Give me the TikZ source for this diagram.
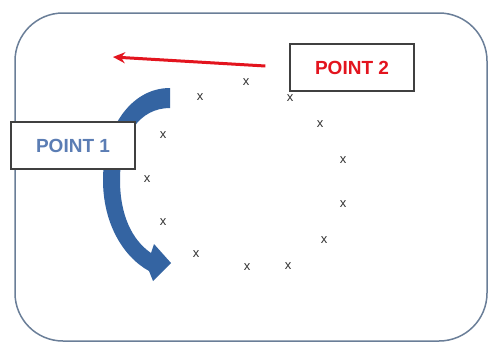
\documentclass[tikz,border=0pt]{standalone}
\usepackage{fontspec}
\setmainfont{Liberation Sans}
\usetikzlibrary{arrows.meta}
\definecolor{frame}{HTML}{6A7E98}
\definecolor{blueArrow}{HTML}{3464A2}
\definecolor{ptblue}{HTML}{5B7DB4}
\definecolor{ptred}{HTML}{E3141E}
\definecolor{xgray}{HTML}{333333}
\tikzset{
  labelbox/.style={draw=black!75, line width=1.3pt, fill=white, minimum width=124pt, minimum height=47pt, inner sep=0pt, font=\fontsize{19}{19}\selectfont\bfseries},
  xmark/.style={text=xgray, inner sep=0pt, font=\fontsize{13}{13}\selectfont}
}
\begin{document}
\begin{tikzpicture}[x=1pt,y=-1pt]
\useasboundingbox (0,0) rectangle (489,343);
\fill[white] (0,0) rectangle (489,343);
\draw[frame, line width=1.5pt, rounded corners=48pt] (15,13) rectangle (487,341);
% x marks
\foreach \i/\p in {1/{(246,82)},2/{(200,97)},3/{(290,98)},4/{(320,124)},5/{(163,135)},6/{(343,160)},7/{(147,179)},8/{(343,204)},9/{(163,222)},10/{(324,240)},11/{(196,254)},12/{(247,267)},13/{(288,266)}}
  \node[xmark] (x\i) at \p {x};
% blue curved arrow
\fill[blueArrow] (170,88) .. controls (130,88) and (103,130) .. (103,180)
  .. controls (103,222) and (122,256) .. (149,271)
  -- (153,281) -- (171,263) -- (154,244) -- (151,253)
  .. controls (132,240) and (120,215) .. (120,180)
  .. controls (120,135) and (140,108) .. (170,108) -- cycle;
% boxes
\node[labelbox, text=ptred] (p2) at (352,67.5) {POINT 2};
\node[labelbox, text=ptblue] (p1) at (73,145.5) {POINT 1};
% red arrow
\coordinate (rend) at (113,57);
\draw[ptred, line width=3pt, -{Stealth[length=12pt,width=11pt]}] (p2.west) ++(-24,-1.5) -- (rend);
\end{tikzpicture}
\end{document}
